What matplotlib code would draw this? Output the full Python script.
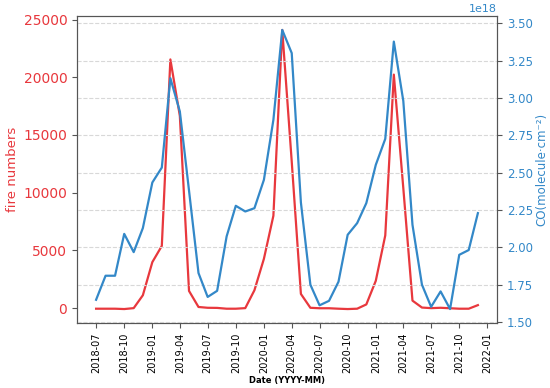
import numpy as np
import pandas as pd
import matplotlib
matplotlib.use("Agg")
import matplotlib.pyplot as plt
import matplotlib.dates as mdates

months = pd.date_range("2018-07-01", periods=42, freq="MS")

fire_numbers = [-50, -50, -50, -80, 0, 1115, 3985, 5390, 21545, 16650,
                1490, 100, 30, 20, -50, -50, 0, 1550, 4275, 8000,
                24100, 12700, 1230, 30, -10, -10, -50, -80, -50, 320,
                2370, 6300, 20230, 10400, 650, 50, 0, 30, -10, -50,
                -50, 260]

co_e18 = [1.649, 1.81, 1.81, 2.09, 1.968, 2.129, 2.434, 2.534, 3.132, 2.909,
          2.38, 1.828, 1.668, 1.709, 2.073, 2.278, 2.24, 2.262, 2.452, 2.853,
          3.455, 3.30, 2.30, 1.75, 1.612, 1.642, 1.77, 2.084, 2.162, 2.296,
          2.552, 2.726, 3.377, 2.98, 2.151, 1.75, 1.602, 1.705, 1.587, 1.95,
          1.982, 2.229]

co = np.array(co_e18) * 1e18

color_fire = "#e8383d"
color_co = "#3388c8"
spine_color = "#555555"

fig = plt.figure(figsize=(5.5, 3.88), dpi=100)
ax = fig.add_subplot(111)
fig.subplots_adjust(left=0.14, right=0.9036, top=0.9588, bottom=0.1675)

ax.plot(months, fire_numbers, color=color_fire, linewidth=1.6)
ax.set_ylabel("fire numbers", color=color_fire, fontsize=9.5, labelpad=3)
ax.tick_params(axis="y", colors=color_fire, labelsize=10)
ax.tick_params(axis="y", color=spine_color)
ax.set_yticks([0, 5000, 10000, 15000, 20000, 25000])

ax.xaxis.set_major_locator(mdates.MonthLocator(bymonth=[1, 4, 7, 10]))
ax.xaxis.set_major_formatter(mdates.DateFormatter("%Y-%m"))
ax.tick_params(axis="x", labelsize=7, rotation=90, color=spine_color)
ax.set_xlabel("Date (YYYY-MM)", fontsize=6, fontweight="bold", labelpad=2)

ax2 = ax.twinx()
ax2.plot(months, co, color=color_co, linewidth=1.6)
ax2.set_ylabel("CO(molecule\u00b7cm\u207b\u00b2)", color=color_co, fontsize=8.5, labelpad=2)
ax2.tick_params(axis="y", colors=color_co, labelsize=8.5)
ax2.tick_params(axis="y", color=spine_color)
ax2.yaxis.get_offset_text().set_color(color_co)
ax2.yaxis.get_offset_text().set_fontsize(8)
ax2.grid(axis="y", linestyle="--", color="#d8d8d8", linewidth=0.8)

for a in (ax, ax2):
    for s in a.spines.values():
        s.set_color(spine_color)

plt.savefig("out.png", dpi=100)
